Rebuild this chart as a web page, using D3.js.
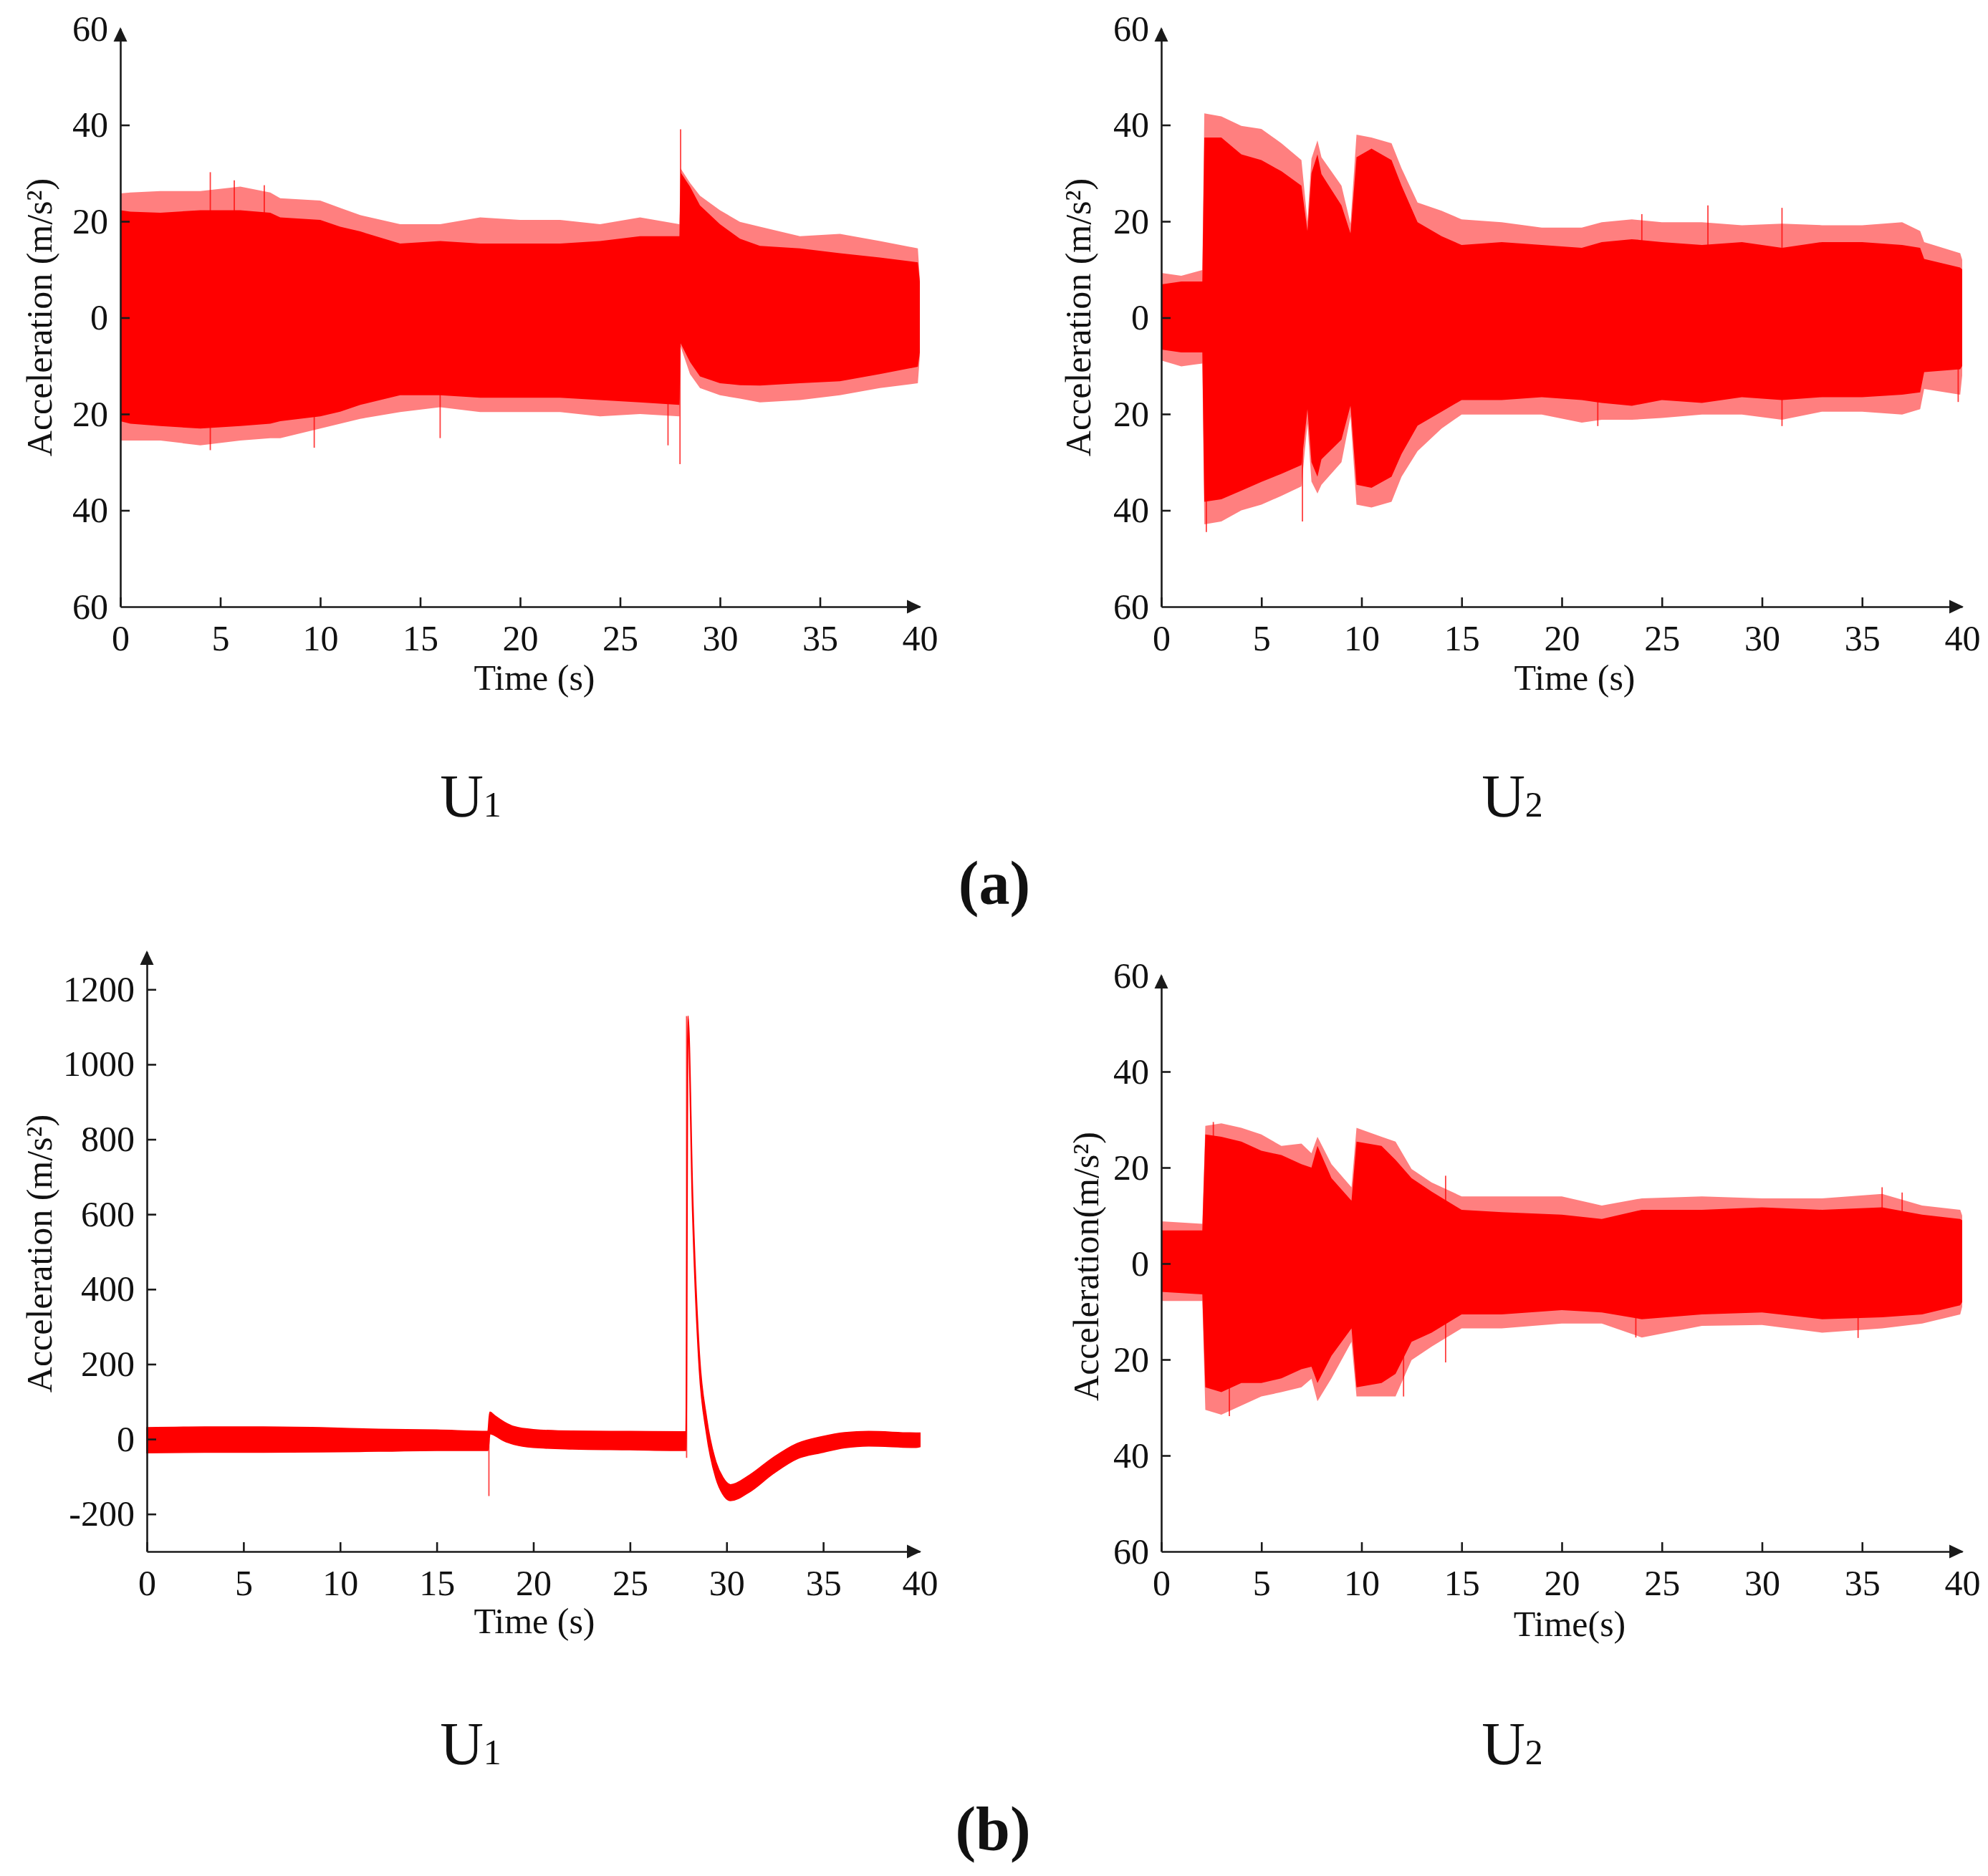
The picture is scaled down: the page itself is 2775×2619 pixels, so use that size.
<!DOCTYPE html>
<html>
<head>
<meta charset="utf-8">
<script src="https://cdn.jsdelivr.net/npm/d3@7"></script>
<style>
	body { margin: 0; background: white; }
	text { font-family: "Liberation Serif", "Times New Roman", serif; fill: #111; }
</style>
</head>
<body>
<svg id="chart" width="2775" height="2619"></svg>
<script>
// values (envelopes of the dense vibration records)
const timeTicks = [0, 5, 10, 15, 20, 25, 30, 35, 40];
const accTicks = [-60, -40, -20, 0, 20, 40, 60];
// the source figure prints the negative ticks without a minus sign
const accTickLabels = ["60", "40", "20", "0", "20", "40", "60"];
const bigTicks = [-200, 0, 200, 400, 600, 800, 1000, 1200];
const bigTickLabels = ["-200", "0", "200", "400", "600", "800", "1000", "1200"];

// (a) U1
const a1Time = [0, 0.5, 2, 4, 6, 7.5, 8, 10, 11, 12, 14, 16, 18, 20, 22, 24, 26, 27.97, 28.03, 28.5, 29, 30, 31, 32, 34, 36, 38, 39.9, 40];
const a1CoreHi = [22.3, 22, 21.8, 22.3, 22.3, 21.8, 20.8, 20.3, 18.9, 17.9, 15.4, 15.9, 15.4, 15.4, 15.4, 15.9, 16.9, 16.9, 30.2, 27.2, 23.3, 19.4, 16.4, 14.9, 14.4, 13.4, 12.5, 11.5, 7.5];
const a1PeakHi = [25.8, 26, 26.3, 26.3, 27.2, 26, 24.8, 24.3, 22.8, 21.3, 19.4, 19.4, 20.8, 20.3, 20.3, 19.4, 20.8, 19.4, 31, 28, 25.3, 22.3, 19.9, 18.9, 16.9, 17.4, 15.9, 14.4, 8];
const a1CoreLo = [-21.5, -22, -22.5, -23, -22.5, -22, -21.5, -20.5, -19.5, -18.1, -16.1, -16.1, -16.6, -16.6, -16.6, -17.1, -17.6, -18.1, -5.3, -9.2, -12.2, -13.6, -14, -14.1, -13.6, -13.2, -11.7, -10.2, -7.2];
const a1PeakLo = [-25.5, -25.5, -25.5, -26.5, -25.5, -25, -25, -23, -22, -21, -19.6, -18.6, -19.6, -19.6, -19.6, -20.5, -20, -20.5, -6, -11.7, -14.6, -16.1, -16.8, -17.6, -17.1, -16.1, -14.6, -13.6, -8];
const a1SpikeT = [4.5, 5.7, 7.2, 28.03, 4.5, 9.7, 16.0, 27.4, 28.0];
const a1SpikeV = [30.2, 28.5, 27.5, 39.1, -27.5, -27, -25, -26.5, -30.4];

// (a) U2
const a2Time = [0, 1, 2.05, 2.15, 3, 4, 5, 6, 7, 7.3, 7.5, 7.8, 8, 9, 9.45, 9.75, 10.5, 11.5, 12, 12.8, 14, 15, 17, 19, 21, 22, 23.5, 25, 27, 29, 31, 33, 35, 37, 37.9, 38.1, 39.9, 40];
const a2CoreHi = [6.9, 7.5, 7.5, 37.4, 37.4, 33.9, 32.7, 30.4, 27.4, 18, 30, 33.9, 29.8, 23.3, 17.5, 33.3, 35.1, 32.7, 27.4, 19.8, 16.9, 15.1, 15.7, 15.1, 14.5, 15.7, 16.3, 15.7, 15.1, 15.7, 14.5, 15.7, 15.7, 15.1, 14.5, 12.2, 10.4, 10];
const a2PeakHi = [9.3, 8.7, 9.9, 42.4, 41.8, 39.8, 39.2, 36.2, 32.7, 20, 33, 36.8, 33.3, 27.4, 19.5, 38, 37.4, 36.2, 31, 23.9, 22.2, 20.4, 19.8, 18.7, 18.7, 19.8, 20.4, 19.8, 19.8, 19.2, 19.5, 19.2, 19.2, 19.8, 18, 15.7, 13.4, 12];
const a2CoreLo = [-6.6, -7.2, -7.2, -38.2, -37.7, -35.9, -34.1, -32.4, -30.6, -19, -30, -33, -29.4, -25.3, -18.3, -34.7, -35.3, -33, -28.3, -22.4, -19.5, -17.1, -17.1, -16.5, -17.1, -17.7, -18.3, -17.1, -17.7, -16.5, -17.1, -16.5, -16.5, -16, -15.5, -11.3, -10.7, -10];
const a2PeakLo = [-8.9, -10.1, -9.5, -42.9, -42.3, -40, -38.8, -37, -35, -22, -34, -36.5, -34.7, -30, -20.5, -38.8, -39.4, -38.2, -33, -27.7, -23, -20.1, -20.1, -20.1, -21.8, -21.2, -21.2, -20.8, -20.1, -20.1, -21.2, -19.5, -19.5, -20.1, -19, -14.8, -16, -12];
const a2SpikeT = [27.3, 31.0, 24.0, 2.25, 7.05, 21.8, 31.0, 39.8];
const a2SpikeV = [23.3, 22.8, 21.5, -44.5, -42.3, -22.5, -22.5, -17.5];

// (b) U1
const b1Time = [0, 3, 6, 9, 12, 15, 17.65, 17.75, 18.0, 18.5, 19, 20, 22, 25, 27.9, 28.0, 28.24, 28.59, 28.96, 29.45, 29.8, 30.2, 31.2, 32.4, 33.65, 34.9, 36.1, 37.35, 39.8, 40];
const b1Hi = [30, 32, 32, 30, 26, 24, 20, 72, 62, 45, 33, 25, 21, 20, 19, 1129, 650, 225, 56, -62, -102, -122, -96, -50, -12, 6, 17, 20, 16, 16];
const b1Lo = [-36, -35, -35, -34, -32, -30, -30, 15, 10, -5, -14, -22, -26, -28, -30, 1110, 612, 187, 16, -104, -146, -164, -140, -92, -52, -36, -23, -18, -22, -20];
const b1SpikeT = [17.7, 27.93, 27.93];
const b1SpikeV = [-152, 1129, -50];

// (b) U2
const b2Time = [0, 2.05, 2.2, 3, 4, 5, 6, 7, 7.5, 7.8, 8.5, 9.5, 9.75, 11, 11.7, 12.5, 13.5, 15, 17, 20, 22, 24, 27, 30, 33, 36, 38, 39.9, 40];
const b2CoreHi = [6.9, 6.9, 26.9, 26.4, 25.4, 23.5, 22.6, 20.7, 20, 24.5, 17.8, 13.1, 25.4, 24.5, 21.6, 17.8, 15, 11.2, 10.7, 10.2, 9.3, 11.2, 11.2, 11.7, 11.2, 11.7, 10.2, 9.3, 9];
const b2PeakHi = [8.8, 8.3, 28.7, 29.2, 28.3, 26.9, 24.5, 25, 23, 26.4, 20.7, 15.9, 28.3, 26.4, 25.4, 19.7, 16.9, 14, 14, 14, 12.1, 13.6, 14, 13.6, 13.6, 14.5, 12.1, 11.2, 10];
const b2CoreLo = [-5.9, -6.4, -25.8, -26.8, -24.9, -24.9, -23.9, -22, -21.5, -24.9, -19.2, -13.5, -25.8, -24.9, -23, -16.3, -14.4, -10.6, -10.6, -9.7, -10.2, -11.6, -10.6, -10.2, -11.6, -11.2, -10.6, -8.7, -8];
const b2PeakLo = [-7.8, -7.8, -30.5, -31.5, -29.6, -27.7, -26.8, -25.8, -24, -28.7, -23.9, -16.3, -27.7, -27.7, -27.7, -20.1, -17.3, -13.5, -13.5, -12.5, -12.5, -15.4, -13, -12.8, -14.4, -13.5, -12.5, -10.6, -9];
const b2SpikeT = [2.6, 14.2, 36.0, 37.0, 3.4, 12.1, 14.2, 23.7, 34.8];
const b2SpikeV = [29.5, 18.3, 15.9, 14.8, -31.8, -27.7, -20.6, -15.4, -15.5];

const svg = d3.select("#chart");
svg.append("rect").attr("width", 2775).attr("height", 2619).attr("fill", "white");

const axisColor = "#1a1a1a";
const red = "#ff0000";

function drawPanel(p) {
	let g = svg.append("g");
	let x = d3.scaleLinear().domain([0, 40]).range([p.left, p.right]);
	let y = d3.scaleLinear().domain(p.yDomain).range([p.bottom, p.top]);
	let curve = p.smooth ? d3.curveMonotoneX : d3.curveLinear;

	let rows = p.time.map((t, i) => ({
		t: t,
		hi: p.coreHi[i],
		lo: p.coreLo[i],
		pHi: p.peakHi ? p.peakHi[i] : p.coreHi[i],
		pLo: p.peakLo ? p.peakLo[i] : p.coreLo[i]
	}));

	// spiky fringe of the record
	if (p.peakHi) {
		g.append("path")
			.datum(rows)
			.attr("d", d3.area().curve(curve).x(d => x(d.t)).y0(d => y(d.pLo)).y1(d => y(d.pHi)))
			.attr("fill", red)
			.attr("fill-opacity", 0.5);
	}

	// isolated spikes
	g.selectAll(".spike")
		.data(d3.zip(p.spikeT, p.spikeV))
		.enter().append("line")
		.attr("class", "spike")
		.attr("x1", d => x(d[0]))
		.attr("x2", d => x(d[0]))
		.attr("y1", y(0))
		.attr("y2", d => y(d[1]))
		.attr("stroke", red)
		.attr("stroke-opacity", 0.75)
		.attr("stroke-width", 1.8);

	// dense core of the record
	g.append("path")
		.datum(rows)
		.attr("d", d3.area().curve(curve).x(d => x(d.t)).y0(d => y(d.lo)).y1(d => y(d.hi)))
		.attr("fill", red)
		.attr("stroke", red)
		.attr("stroke-width", p.bandStroke || 0);

	// axes
	let yAxis = d3.axisLeft(y)
		.tickValues(p.yTicks)
		.tickFormat((d, i) => p.yTickLabels[i])
		.tickSize(-13)
		.tickSizeOuter(0)
		.tickPadding(17);
	let gy = g.append("g")
		.attr("transform", "translate(" + p.left + ",0)")
		.call(yAxis);

	let xAxis = d3.axisBottom(x)
		.tickValues(timeTicks)
		.tickFormat(d3.format("d"))
		.tickSize(-13)
		.tickSizeOuter(0)
		.tickPadding(25);
	let gx = g.append("g")
		.attr("transform", "translate(0," + p.bottom + ")")
		.call(xAxis);

	[gy, gx].forEach(ax => {
		ax.attr("font-size", null).attr("font-family", null);
		ax.select(".domain").attr("stroke", axisColor).attr("stroke-width", 2.6);
		ax.selectAll(".tick line").attr("stroke", axisColor).attr("stroke-width", 2.6);
		ax.selectAll(".tick text")
			.attr("font-size", 50)
			.attr("fill", "#111");
	});
	// no tick marks under the arrow heads
	gy.selectAll(".tick line").filter(d => d == p.yDomain[1] || d == p.yDomain[0]).remove();
	gx.selectAll(".tick line").filter(d => d == 40).remove();

	g.append("path")
		.attr("d", "M" + p.left + "," + (p.top - 2) + " L" + (p.left - 9.5) + "," + (p.top + 18) + " L" + (p.left + 9.5) + "," + (p.top + 18) + " Z")
		.attr("fill", axisColor);
	g.append("path")
		.attr("d", "M" + (p.right + 2) + "," + p.bottom + " L" + (p.right - 18) + "," + (p.bottom - 9.5) + " L" + (p.right - 18) + "," + (p.bottom + 9.5) + " Z")
		.attr("fill", axisColor);

	// axis titles
	g.append("text")
		.attr("transform", "translate(" + p.yLabelX + "," + p.yLabelY + ") rotate(-90)")
		.attr("text-anchor", "middle")
		.attr("font-size", 50)
		.text(p.yLabel);
	g.append("text")
		.attr("x", p.xLabelX)
		.attr("y", p.xLabelY)
		.attr("text-anchor", "middle")
		.attr("font-size", 50)
		.text(p.xLabel);
}

drawPanel({
	left: 168, right: 1284, top: 40, bottom: 847, yDomain: [-60, 60],
	yTicks: accTicks, yTickLabels: accTickLabels,
	time: a1Time, coreHi: a1CoreHi, coreLo: a1CoreLo, peakHi: a1PeakHi, peakLo: a1PeakLo,
	spikeT: a1SpikeT, spikeV: a1SpikeV,
	yLabel: "Acceleration (m/s²)", yLabelX: 72, yLabelY: 443,
	xLabel: "Time (s)", xLabelX: 746, xLabelY: 963
});

drawPanel({
	left: 1621, right: 2739, top: 40, bottom: 847, yDomain: [-60, 60],
	yTicks: accTicks, yTickLabels: accTickLabels,
	time: a2Time, coreHi: a2CoreHi, coreLo: a2CoreLo, peakHi: a2PeakHi, peakLo: a2PeakLo,
	spikeT: a2SpikeT, spikeV: a2SpikeV,
	yLabel: "Acceleration (m/s²)", yLabelX: 1522, yLabelY: 443,
	xLabel: "Time (s)", xLabelX: 2198, xLabelY: 963
});

drawPanel({
	left: 205, right: 1284, top: 1329, bottom: 2166, yDomain: [-300, 1300],
	yTicks: bigTicks, yTickLabels: bigTickLabels,
	time: b1Time, coreHi: b1Hi, coreLo: b1Lo, bandStroke: 2, smooth: true,
	spikeT: b1SpikeT, spikeV: b1SpikeV,
	yLabel: "Acceleration (m/s²)", yLabelX: 72, yLabelY: 1750,
	xLabel: "Time (s)", xLabelX: 746, xLabelY: 2280
});

drawPanel({
	left: 1621, right: 2739, top: 1362, bottom: 2166, yDomain: [-60, 60],
	yTicks: accTicks, yTickLabels: accTickLabels,
	time: b2Time, coreHi: b2CoreHi, coreLo: b2CoreLo, peakHi: b2PeakHi, peakLo: b2PeakLo,
	spikeT: b2SpikeT, spikeV: b2SpikeV,
	yLabel: "Acceleration(m/s²)", yLabelX: 1533, yLabelY: 1768,
	xLabel: "Time(s)", xLabelX: 2191, xLabelY: 2284
});

// sensor names and sub-figure letters
const sensorLabels = [
	{ x: 657, y: 1140, n: "1" },
	{ x: 2111, y: 1140, n: "2" },
	{ x: 657, y: 2463, n: "1" },
	{ x: 2111, y: 2463, n: "2" }
];
sensorLabels.forEach(s => {
	let t = svg.append("text")
		.attr("x", s.x)
		.attr("y", s.y)
		.attr("text-anchor", "middle")
		.attr("font-size", 84);
	t.append("tspan").text("U");
	t.append("tspan").attr("font-size", 50).text(s.n);
});

const subLetters = [{ x: 1388, y: 1262, l: "(a)" }, { x: 1386, y: 2582, l: "(b)" }];
subLetters.forEach(s => {
	svg.append("text")
		.attr("x", s.x)
		.attr("y", s.y)
		.attr("text-anchor", "middle")
		.attr("font-size", 86)
		.attr("font-weight", "bold")
		.text(s.l);
});
</script>
</body>
</html>
